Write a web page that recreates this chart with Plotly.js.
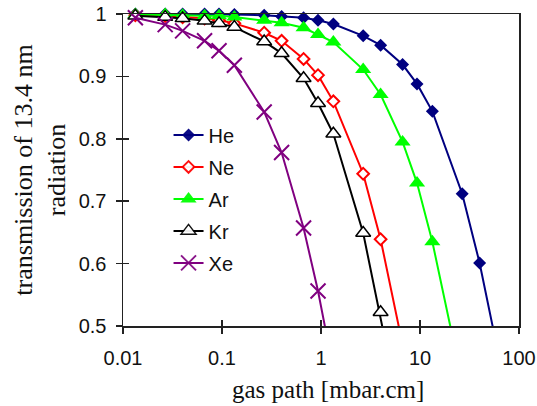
<!DOCTYPE html>
<html>
<head>
<meta charset="utf-8">
<script src="https://cdn.plot.ly/plotly-3.0.1.min.js"></script>
<style>html,body{margin:0;padding:0;background:#fff;}#chart{width:537px;height:406px;}</style>
</head>
<body>
<div id="chart"></div>
<script>
// gas path values [mbar.cm]
var gasPath = [0.01333, 0.02667, 0.04, 0.06667, 0.09333, 0.1333, 0.2667, 0.4, 0.6667, 0.9333,
               1.333, 2.667, 4, 6.667, 9.333, 13.33, 26.67, 40, 66.67];
var heT = [1.0, 1.0, 1.0, 1.0, 1.0, 0.999, 0.998, 0.996, 0.994, 0.99, 0.984, 0.965, 0.95, 0.919, 0.888, 0.844, 0.712, 0.601, 0.43];
var neT = [0.998, 0.997, 0.995, 0.993, 0.99, 0.985, 0.97, 0.957, 0.928, 0.902, 0.86, 0.744, 0.639, 0.47];
var arX = [0.01333, 0.02667, 0.04, 0.06667, 0.09333, 0.1333, 0.2667, 0.4, 0.6667, 0.9333,
           1.333, 2.667, 4, 6.667, 9.333, 13.33, 26.67];
var arT = [0.999, 0.999, 0.998, 0.997, 0.997, 0.995, 0.99, 0.986, 0.978, 0.967, 0.955, 0.911, 0.871, 0.795, 0.729, 0.635, 0.41];
var krT = [0.997, 0.995, 0.993, 0.989, 0.985, 0.979, 0.956, 0.937, 0.897, 0.857, 0.808, 0.649, 0.522, 0.34];
var xeT = [0.994, 0.983, 0.973, 0.957, 0.941, 0.918, 0.843, 0.778, 0.657, 0.556, 0.43];

var xTickVals = [0.01, 0.1, 1, 10, 100];
var xTickText = ['0.01', '0.1', '1', '10', '100'];
var yTickVals = [0.5, 0.6, 0.7, 0.8, 0.9, 1];
var yTickText = ['0.5', '0.6', '0.7', '0.8', '0.9', '1'];
var yMin = 0.5, yMax = 1;
var xTitle = 'gas path [mbar.cm]';
var yTitle = 'transmission of 13.4 nm<br>radiation';

function xs(n) { return gasPath.slice(0, n); }
// hide markers that fall below the axis range (lines are clipped by the plot area anyway)
function vis(arr) { return arr.map(function(v){ return v >= yMin ? 1 : 0; }); }

var traces = [
  {name: 'He', x: xs(heT.length), y: heT, legendgroup: 'a',
   line: {color: '#000080', width: 2},
   marker: {symbol: 'diamond', size: 10, color: '#000080', opacity: vis(heT)}},
  {name: 'Ne', x: xs(neT.length), y: neT, legendgroup: 'b',
   line: {color: '#ff0000', width: 2},
   marker: {symbol: 'diamond', size: 9, color: '#ffffff', line: {color: '#ff0000', width: 2}, opacity: vis(neT)}},
  {name: 'Ar', x: arX, y: arT, legendgroup: 'c',
   line: {color: '#00ff00', width: 2},
   marker: {symbol: 'triangle-up', size: 14, color: '#00ff00', opacity: vis(arT)}},
  {name: 'Kr', x: xs(krT.length), y: krT, legendgroup: 'd',
   line: {color: '#000000', width: 2},
   marker: {symbol: 'triangle-up', size: 13, color: '#ffffff', line: {color: '#000000', width: 1.5}, opacity: vis(krT)}},
  {name: 'Xe', x: xs(xeT.length), y: xeT, legendgroup: 'e',
   line: {color: '#800080', width: 2},
   marker: {symbol: 'x-thin-open', size: 15, color: '#800080', line: {color: '#800080', width: 2}, opacity: vis(xeT)}}
];
traces.forEach(function(t){ t.type = 'scatter'; t.mode = 'lines+markers'; t.cliponaxis = false; });

var tickFont = {family: 'Liberation Sans, Arial, sans-serif', size: 20, color: '#111'};
var titleFont = {family: 'Liberation Serif, Times New Roman, serif', size: 26, color: '#111'};
var xTitleFont = {family: 'Liberation Serif, Times New Roman, serif', size: 25, color: '#111'};

var layout = {
  width: 537, height: 406,
  margin: {l: 123, r: 18, t: 14, b: 80, pad: 0},
  paper_bgcolor: '#fff', plot_bgcolor: '#fff',
  showlegend: true,
  legend: {x: 0.115, y: 0.675, xanchor: 'left', yanchor: 'top', bgcolor: 'rgba(0,0,0,0)',
           font: {family: 'Liberation Sans, Arial, sans-serif', size: 20, color: '#111'},
           tracegroupgap: 3, traceorder: 'grouped'},
  xaxis: {type: 'log', range: [-2, 2], tickvals: xTickVals, ticktext: xTickText,
          ticks: 'outside', ticklen: 6, tickwidth: 1.5, tickcolor: '#222',
          showline: true, linecolor: '#222', linewidth: 1.5, mirror: true,
          showgrid: false, zeroline: false, tickfont: tickFont, ticklabelstandoff: 7},
  yaxis: {range: [yMin, yMax], tickvals: yTickVals, ticktext: yTickText,
          ticks: 'outside', ticklen: 6, tickwidth: 1.5, tickcolor: '#222',
          showline: true, linecolor: '#222', linewidth: 1.5, mirror: true,
          showgrid: false, zeroline: false, tickfont: tickFont, ticklabelstandoff: 5,
          title: {text: yTitle, font: titleFont, standoff: 5}},
  xaxis2: {type: 'log', range: [-2, 2], overlaying: 'x', anchor: 'y', side: 'bottom',
           tickvals: xTickVals, showticklabels: false, ticks: 'inside', ticklen: 6, tickwidth: 1.5,
           tickcolor: '#222', showline: false, showgrid: false, zeroline: false},
  yaxis2: {range: [yMin, yMax], overlaying: 'y', anchor: 'x', side: 'left',
           tickvals: yTickVals, showticklabels: false, ticks: 'inside', ticklen: 6, tickwidth: 1.5,
           tickcolor: '#222', showline: false, showgrid: false, zeroline: false},
  annotations: [
    {text: xTitle, xref: 'paper', yref: 'paper', x: 0.518, y: -0.203,
     xanchor: 'center', yanchor: 'middle', showarrow: false, font: xTitleFont, borderpad: 0}
  ]
};

traces.push({type: 'scatter', x: [], y: [], xaxis: 'x2', yaxis: 'y2', showlegend: false, hoverinfo: 'skip'});

Plotly.newPlot('chart', traces, layout, {displayModeBar: false, staticPlot: true});
</script>
</body>
</html>
